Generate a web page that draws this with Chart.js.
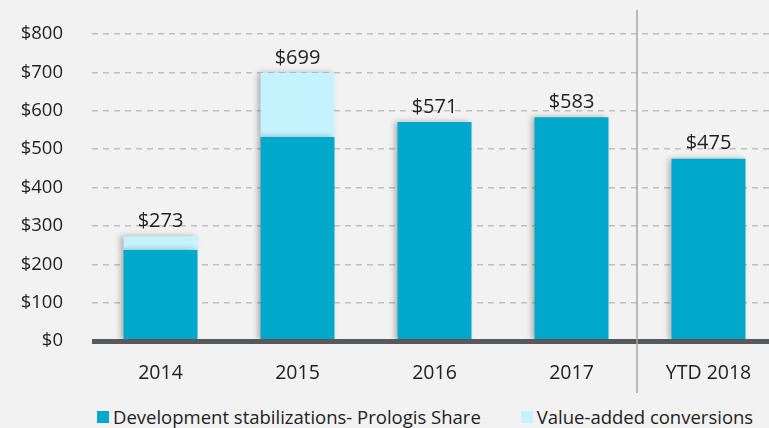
<!DOCTYPE html>
<html>
<head>
<meta charset="utf-8">
<script src="https://cdn.jsdelivr.net/npm/chart.js@4.4.1/dist/chart.umd.min.js"></script>
<style>
  html, body { margin: 0; padding: 0; background: #f2f2f2; overflow: hidden; width: 769px; height: 428px; }
  #wrap { position: relative; width: 769px; height: 428px; overflow: hidden; }
  canvas { position: absolute; left: 0; top: -6px; }
  #legend { position: absolute; left: 97px; top: 404px; display: flex; gap: 40px; font: 18.5px "Open Sans", sans-serif; color: #222; white-space: nowrap; }
  #legend span.item { display: flex; align-items: center; }
  #legend i { display: inline-block; width: 12px; height: 12px; margin-right: 4px; }
</style>
</head>
<body>
<div id="wrap">
  <canvas id="chart" width="777" height="401"></canvas>
  <div id="legend"></div>
</div>
<script>
// chart data
const categories = ['2014', '2015', '2016', '2017', 'YTD 2018'];
const stabilizations = [237, 532, 571, 583, 475];
const conversions = [36, 167, 0, 0, 0];
const totals = [273, 699, 571, 583, 475];
const yTicks = [0, 100, 200, 300, 400, 500, 600, 700, 800];

const seriesNames = ['Development stabilizations- Prologis Share', 'Value-added conversions'];
const seriesColors = ['#00a8cb', '#c4f2fd'];

Chart.defaults.font.family = '"Open Sans", sans-serif';
Chart.defaults.color = '#222';

// soft shadow on the left of each bar
const barShadow = {
  id: 'barShadow',
  beforeDatasetsDraw(chart) {
    const ctx = chart.ctx;
    ctx.save();
    ctx.shadowColor = 'rgba(0,0,0,0.3)';
    ctx.shadowBlur = 6;
    ctx.shadowOffsetX = -3;
  },
  afterDatasetsDraw(chart) {
    chart.ctx.restore();
  }
};

// thick base line, divider before YTD and total labels
const extras = {
  id: 'extras',
  afterDatasetsDraw(chart) {
    const ctx = chart.ctx;
    const x = chart.scales.x, y = chart.scales.y;
    const area = chart.chartArea;
    ctx.save();
    const y0 = y.getPixelForValue(0);
    ctx.strokeStyle = '#58595b';
    ctx.lineWidth = 5;
    ctx.beginPath();
    ctx.moveTo(area.left, y0 + 0.5);
    ctx.lineTo(area.right, y0 + 0.5);
    ctx.stroke();

    // divider between full years and YTD
    const xs = (x.getPixelForTick(3) + x.getPixelForTick(4)) / 2 - 3;
    ctx.strokeStyle = '#a6a6a6';
    ctx.lineWidth = 1.5;
    ctx.beginPath();
    ctx.moveTo(xs, area.top - 24);
    ctx.lineTo(xs, chart.height - 2);
    ctx.stroke();

    ctx.fillStyle = '#222';
    ctx.font = '20px "Open Sans", sans-serif';
    ctx.textAlign = 'center';
    ctx.textBaseline = 'middle';
    totals.forEach((t, i) => {
      ctx.fillText('$' + t, x.getPixelForValue(i), y.getPixelForValue(t) - 15);
    });
    ctx.restore();
  }
};

new Chart(document.getElementById('chart'), {
  type: 'bar',
  data: {
    labels: categories,
    datasets: [
      { label: seriesNames[0], data: stabilizations, backgroundColor: seriesColors[0] },
      { label: seriesNames[1], data: conversions, backgroundColor: seriesColors[1] }
    ]
  },
  options: {
    responsive: false,
    animation: false,
    layout: { padding: { top: 25, left: 0, right: 0, bottom: 0 } },
    datasets: { bar: { barPercentage: 0.54, categoryPercentage: 1, borderWidth: 0 } },
    plugins: { legend: { display: false }, tooltip: { enabled: false } },
    scales: {
      x: {
        stacked: true,
        grid: { display: false, drawTicks: false },
        border: { display: false },
        ticks: { padding: 21, font: { size: 19.5 }, color: '#222' },
        afterFit(s) { s.height = 54; }
      },
      y: {
        stacked: true,
        min: 0,
        max: 800,
        afterBuildTicks(s) { s.ticks = yTicks.map(v => ({ value: v })); },
        grid: { color: '#bfbfbf', lineWidth: 1.5, drawTicks: false },
        border: { display: false, dash: [6, 5] },
        ticks: { padding: 29, font: { size: 18.5 }, color: '#222', callback: v => '$' + v },
        afterFit(s) { s.width = 92; }
      }
    }
  },
  plugins: [barShadow, extras]
});

// legend
const legend = document.getElementById('legend');
seriesNames.forEach((name, i) => {
  const item = document.createElement('span');
  item.className = 'item';
  item.innerHTML = '<i style="background:' + seriesColors[i] + '"></i>' + name;
  legend.appendChild(item);
});
</script>
</body>
</html>
